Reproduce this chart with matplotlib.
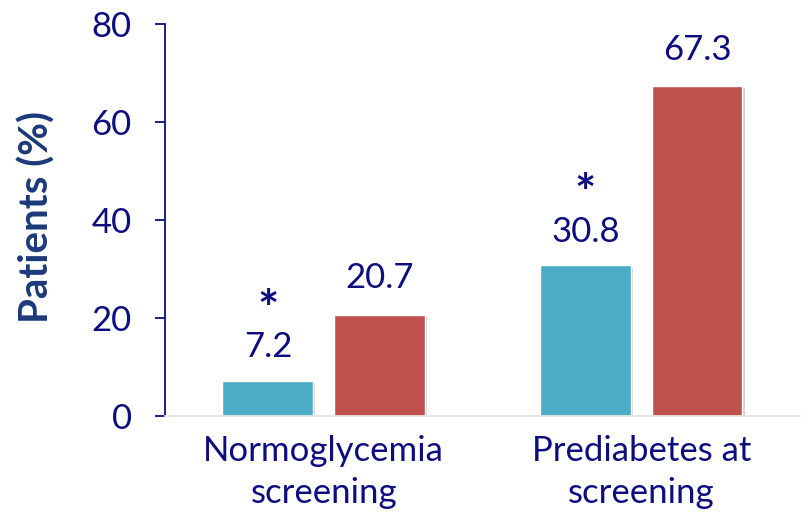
import numpy as np
import matplotlib.pyplot as plt
import matplotlib.patheffects as pe

plt.rcParams['font.family'] = ['Lato', 'DejaVu Sans']

groups = ['Normoglycemia\nscreening', 'Prediabetes at\nscreening']
teal_vals = [7.2, 30.8]
red_vals = [20.7, 67.3]
stars = ['*', '*']

navy = '#0D0D80'
teal = '#4BACC6'
red = '#C0504D'

fig = plt.figure(figsize=(8.08, 5.15), dpi=100)
ax = fig.add_axes([0.2042, 0.1922, 0.7858, 0.7612])

x = np.arange(len(groups))
w = 0.286
off = 0.176
shadow = [pe.SimplePatchShadow(offset=(1.5, -1.5), alpha=0.2), pe.Normal()]

b1 = ax.bar(x - off, teal_vals, w, color=teal, edgecolor='white', linewidth=1,
            path_effects=shadow)
b2 = ax.bar(x + off, red_vals, w, color=red, edgecolor='white', linewidth=1,
            path_effects=shadow)

for xi, v, s in zip(x - off, teal_vals, stars):
    ax.annotate(str(v), (xi, v), xytext=(0, 24), textcoords='offset points',
                ha='center', va='center', fontsize=25, color=navy)
    ax.annotate(s, (xi, v), xytext=(0, 50), textcoords='offset points',
                ha='center', va='center', fontsize=36, fontweight='bold', color=navy)
for xi, v in zip(x + off, red_vals):
    ax.annotate(str(v), (xi, v), xytext=(0, 26), textcoords='offset points',
                ha='center', va='center', fontsize=25, color=navy)

ax.set_xlim(-0.5, 1.5)
ax.set_ylim(0, 80)
ax.set_yticks([0, 20, 40, 60, 80])
ax.set_xticks(x)
ax.set_xticklabels(groups, fontsize=25, color=navy, linespacing=1.35)
ax.tick_params(axis='x', length=0, pad=14)
ax.tick_params(axis='y', labelsize=25, labelcolor=navy, color=navy,
               length=7, width=1.3, pad=17)

ax.spines['top'].set_visible(False)
ax.spines['right'].set_visible(False)
ax.spines['left'].set_color(navy)
ax.spines['left'].set_linewidth(1.3)
ax.spines['bottom'].set_color('#E3E3E3')
ax.spines['bottom'].set_linewidth(1.3)

fig.text(37 / 808, 1 - 217 / 515, 'Patients (%)', rotation=90, ha='center',
         va='center', fontsize=29, fontweight='bold', color='#1C3A7A')

fig.savefig('out.png', dpi=100)
